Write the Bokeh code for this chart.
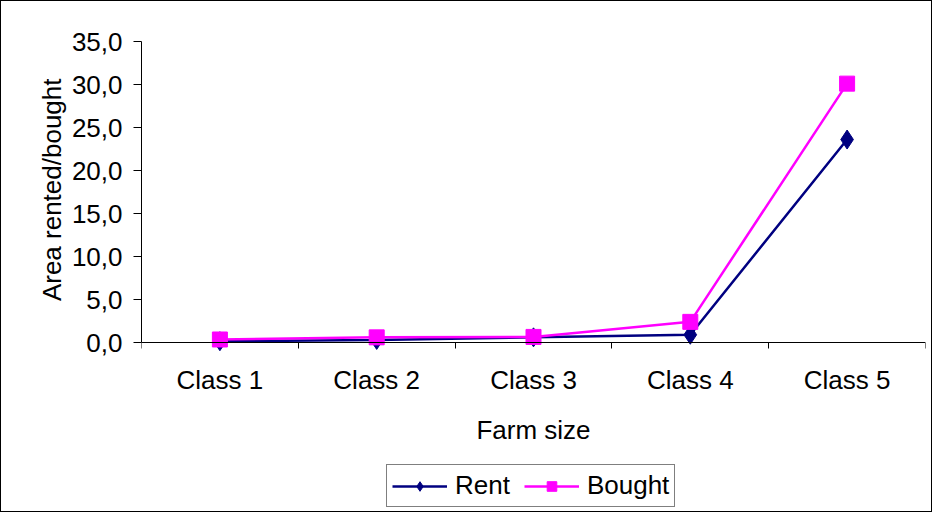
from bokeh.plotting import figure
from bokeh.models import Range1d, FixedTicker, Legend, LegendItem, Title
from bokeh.embed import file_html
from bokeh.resources import INLINE

classes = ["Class 1", "Class 2", "Class 3", "Class 4", "Class 5"]
rent = [0.15, 0.3, 0.6, 0.9, 23.6]
bought = [0.35, 0.6, 0.65, 2.4, 30.1]
y_ticks = [0, 5, 10, 15, 20, 25, 30, 35]

FONT = "Liberation Sans"
FS = "26px"

xs = [i + 0.5 for i in range(len(classes))]

# layout: value axis 0..35 spans 301 px; frame extends below to hold labels/legend
AXIS_PX = 301
FRAME_H = 470
y_top = 35
y_bottom = y_top - y_top * FRAME_H / AXIS_PX

p = figure(frame_width=784, frame_height=FRAME_H, output_backend="svg",
           toolbar_location=None,
           x_range=Range1d(0, len(classes)), y_range=Range1d(y_bottom, y_top),
           min_border_left=140, min_border_right=6, min_border_top=40,
           min_border_bottom=0)
p.styles = {"border": "1px solid black"}
p.outline_line_color = None
p.xgrid.visible = False
p.ygrid.visible = False
p.background_fill_color = "white"
p.border_fill_color = "white"

r_line = p.line(xs, rent, line_color="#000080", line_width=2.5)
r_mark = p.scatter(xs, rent, marker="diamond", size=19, fill_color="#000080",
                   line_color="#000080")
b_line = p.line(xs, bought, line_color="#FF00FF", line_width=2.5)
b_mark = p.scatter(xs, bought, marker="square", size=15, fill_color="#FF00FF",
                   line_color="#FF00FF")

xa = p.xaxis[0]
xa.fixed_location = 0
xa.ticker = FixedTicker(ticks=xs, minor_ticks=list(range(len(classes) + 1)))
xa.major_label_overrides = {x: c for x, c in zip(xs, classes)}
xa.major_tick_out = 0
xa.major_tick_in = 0
xa.minor_tick_out = 6
xa.minor_tick_in = 0
xa.minor_tick_line_color = "black"
xa.axis_line_color = "black"
xa.major_label_standoff = 16
xa.axis_label = "Farm size"
xa.axis_label_standoff = 17
xa.axis_label_text_font_style = "normal"

ya = p.yaxis[0]
ya.bounds = (0, 35)
ya.ticker = FixedTicker(ticks=y_ticks)
ya.major_label_overrides = {t: f"{t:.1f}".replace(".", ",") for t in y_ticks}
ya.major_tick_out = 8
ya.major_tick_in = 0
ya.minor_tick_line_color = None
ya.major_label_standoff = 11

for ax in (xa, ya):
    ax.major_label_text_font = FONT
    ax.major_label_text_font_size = FS
    ax.major_label_text_color = "black"
    ax.axis_label_text_font = FONT
    ax.axis_label_text_font_size = FS
    ax.axis_label_text_color = "black"
    ax.major_tick_line_color = "black"

ytitle = Title(text="Area rented/bought", align="right", offset=37,
               text_font=FONT, text_font_size=FS, text_font_style="normal",
               text_color="black", standoff=4)
p.add_layout(ytitle, "left")

legend = Legend(items=[LegendItem(label="Rent", renderers=[r_line, r_mark]),
                       LegendItem(label="Bought", renderers=[b_line, b_mark])],
                orientation="horizontal", location=(245, 4),
                label_text_font=FONT, label_text_font_size=FS,
                label_text_color="black",
                glyph_width=55, glyph_height=24, label_standoff=8,
                spacing=14, padding=5, margin=0,
                border_line_color="black", border_line_width=1,
                background_fill_alpha=1.0)
p.add_layout(legend, "center")

open("out.html", "w").write(file_html(p, INLINE))
